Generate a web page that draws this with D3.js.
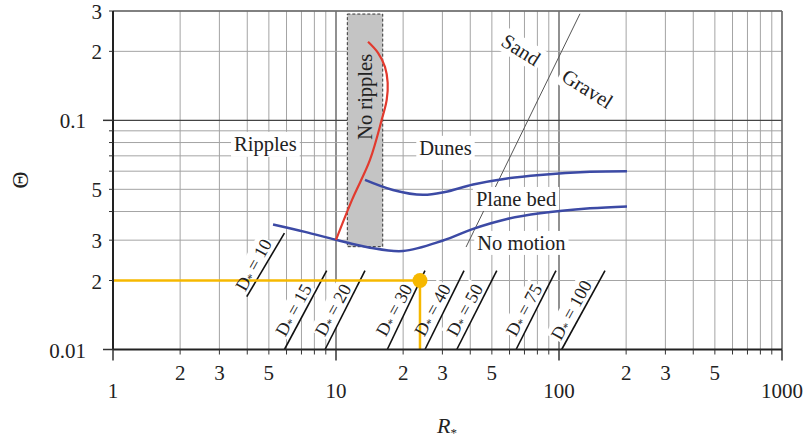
<!DOCTYPE html>
<html lang="en">
<head>
<meta charset="UTF-8">
<title>Bedform regimes</title>
<script src="https://d3js.org/d3.v7.min.js"></script>
<style>
  body { margin: 0; background: #fff; }
  text { font-family: "Liberation Serif", "Times New Roman", serif; fill: #222; }
</style>
</head>
<body>
<svg width="811" height="441"></svg>
<script>
// upper blue curve (dunes / plane bed)
const planeBedR     = [13.49, 18.01, 24.55, 30.8, 41.2, 58.5, 82.2, 137.7, 201.8];
const planeBedTheta = [0.0550, 0.0497, 0.0473, 0.0487, 0.0525, 0.0558, 0.0578, 0.0596, 0.0599];

// lower blue curve (threshold of motion)
const noMotionR     = [5.22, 7.26, 10, 14.2, 19.97, 30.2, 41.2, 58.5, 82.2, 137.7, 201.8];
const noMotionTheta = [0.0351, 0.0326, 0.0301, 0.0278, 0.0269, 0.0299, 0.0336, 0.0371, 0.0393, 0.0413, 0.0421];

// red curve (ripples limit)
const ripplesR     = [10, 11.8, 14.2, 16.03, 16.88, 17.05, 16.58, 15.43, 13.92];
const ripplesTheta = [0.0301, 0.045, 0.0672, 0.1005, 0.1229, 0.1458, 0.1712, 0.1971, 0.2202];

// D* lines, start and end points
const dStar       = [10, 15, 20, 30, 40, 50, 75, 100];
const dStarR0     = [3.98, 5.87, 8.93, 16.98, 25.06, 34.8, 64.2, 102.8];
const dStarTheta0 = [0.017, 0.01, 0.01, 0.01, 0.01, 0.01, 0.01, 0.01];
const dStarR1     = [5.87, 9.08, 13.49, 25.06, 37.5, 52.6, 96.9, 160.8];
const dStarTheta1 = [0.0322, 0.0221, 0.0221, 0.0221, 0.0221, 0.0221, 0.0221, 0.0221];

// sand / gravel divide
const sandGravelR     = [38.3, 124.2];
const sandGravelTheta = [0.028, 0.2918];

// grey "no ripples" band
const noRipplesR     = [11.24, 16.2];
const noRipplesTheta = [0.0281, 0.291];

// worked example point
const exampleR = 23.8, exampleTheta = 0.02;

// tick labels
const xMajor = [1, 10, 100, 1000];
const xMinorLabeled = [2, 3, 5, 20, 30, 50, 200, 300, 500];
const yTickValues = [0.3, 0.2, 0.1, 0.05, 0.03, 0.02, 0.01];
const yTickLabels = ["3", "2", "0.1", "5", "3", "2", "0.01"];

const svg = d3.select("svg");
const x = d3.scaleLog().domain([1, 1000]).range([113, 782]);
const y = d3.scaleLog().domain([0.01, 0.3]).range([349.5, 11]);

// grid values: every integer multiple inside each decade
const xGrid = [];
for (let d = 1; d < 1000; d *= 10) for (let k = 1; k <= 9; k++) xGrid.push(k * d);
xGrid.push(1000);
const yGrid = [0.01, 0.02, 0.03, 0.04, 0.05, 0.06, 0.07, 0.08, 0.09, 0.1, 0.2, 0.3];

const isMajor = v => Math.abs(Math.log10(v) - Math.round(Math.log10(v))) < 1e-9;

const grid = svg.append("g");
grid.selectAll(".vx").data(xGrid).enter().append("line")
    .attr("x1", d => x(d)).attr("x2", d => x(d))
    .attr("y1", y(0.3)).attr("y2", y(0.01))
    .attr("stroke", d => (d === 10 || d === 100) ? "#555" : "#a4a4a4")
    .attr("stroke-width", d => (d === 10 || d === 100) ? 1.3 : 1);
grid.selectAll(".hy").data(yGrid).enter().append("line")
    .attr("x1", x(1)).attr("x2", x(1000))
    .attr("y1", d => y(d)).attr("y2", d => y(d))
    .attr("stroke", d => d === 0.1 ? "#444" : "#a4a4a4")
    .attr("stroke-width", d => d === 0.1 ? 1.3 : 1);

// grey band
svg.append("rect")
    .attr("x", x(noRipplesR[0])).attr("y", y(noRipplesTheta[1]))
    .attr("width", x(noRipplesR[1]) - x(noRipplesR[0]))
    .attr("height", y(noRipplesTheta[0]) - y(noRipplesTheta[1]))
    .attr("fill", "#c4c4c4").attr("stroke", "#333")
    .attr("stroke-width", 1).attr("stroke-dasharray", "3,2");

// sand/gravel line
svg.append("line")
    .attr("x1", x(sandGravelR[0])).attr("y1", y(sandGravelTheta[0]))
    .attr("x2", x(sandGravelR[1])).attr("y2", y(sandGravelTheta[1]))
    .attr("stroke", "#555").attr("stroke-width", 1);

const bgLayer = svg.append("g");
const markLayer = svg.append("g");
const textLayer = svg.append("g");

// label with white box behind it
function label(str, R, T, opts = {}) {
  const size = opts.size || 20.5, rot = opts.rot || 0, anchor = opts.anchor || "start";
  const tf = `translate(${x(R)},${y(T)}) rotate(${rot})`;
  const g = textLayer.append("g").attr("transform", tf);
  const t = g.append("text").attr("text-anchor", anchor)
      .attr("dominant-baseline", opts.baseline || "alphabetic")
      .style("font-size", size + "px");
  if (opts.sub) {
    t.append("tspan").text(str);
    t.append("tspan").attr("dy", 4).style("font-size", (size * 0.65) + "px").text("*");
    t.append("tspan").attr("dy", -4).text(opts.sub);
  } else {
    t.text(str);
  }
  if (opts.bg !== false) {
    const b = t.node().getBBox(), p = opts.pad || 3;
    bgLayer.append("rect").attr("transform", tf)
        .attr("x", b.x - p).attr("y", b.y - 1).attr("width", b.width + 2 * p).attr("height", b.height + 2)
        .attr("fill", "#fff");
  }
}

// D* lines
dStar.forEach((d, i) => {
  markLayer.append("line")
      .attr("x1", x(dStarR0[i])).attr("y1", y(dStarTheta0[i]))
      .attr("x2", x(dStarR1[i])).attr("y2", y(dStarTheta1[i]))
      .attr("stroke", "#111").attr("stroke-width", 1.6);
});

const line = d3.line().x(d => x(d[0])).y(d => y(d[1])).curve(d3.curveCatmullRom);

markLayer.append("path").datum(planeBedR.map((r, i) => [r, planeBedTheta[i]]))
    .attr("d", line).attr("fill", "none").attr("stroke", "#3c4aa5").attr("stroke-width", 2.5);
markLayer.append("path").datum(noMotionR.map((r, i) => [r, noMotionTheta[i]]))
    .attr("d", line).attr("fill", "none").attr("stroke", "#3c4aa5").attr("stroke-width", 2.5);
markLayer.append("path").datum(ripplesR.map((r, i) => [r, ripplesTheta[i]]))
    .attr("d", line).attr("fill", "none").attr("stroke", "#e23a2e").attr("stroke-width", 2.2);

// worked example in yellow
markLayer.append("line")
    .attr("x1", x(1)).attr("x2", x(exampleR)).attr("y1", y(exampleTheta)).attr("y2", y(exampleTheta))
    .attr("stroke", "#f6b800").attr("stroke-width", 2.5);
markLayer.append("line")
    .attr("x1", x(exampleR)).attr("x2", x(exampleR)).attr("y1", y(exampleTheta)).attr("y2", y(0.01))
    .attr("stroke", "#f6b800").attr("stroke-width", 2.5);
markLayer.append("circle")
    .attr("cx", x(exampleR)).attr("cy", y(exampleTheta)).attr("r", 7.5).attr("fill", "#f6b800");

// region labels
label("Ripples", 3.49, 0.0736);
label("Dunes", 23.63, 0.0707);
label("Plane bed", 42.4, 0.0423);
label("No motion", 43.0, 0.0272);
label("Sand", 67.5, 0.2032, {rot: 32, anchor: "middle", baseline: "central"});
label("Gravel", 134.2, 0.1373, {rot: 32, anchor: "middle", baseline: "central"});
label("No ripples", 13.49, 0.1266, {rot: -90, anchor: "middle", baseline: "central", bg: false});

// D* labels beside each line
dStar.forEach((d, i) => {
  const xm = (x(dStarR0[i]) + x(dStarR1[i])) / 2 - 12;
  const ym = (y(dStarTheta0[i]) + y(dStarTheta1[i])) / 2;
  label("D", x.invert(xm), y.invert(ym),
        {rot: -61, anchor: "middle", baseline: "central", size: 18, sub: " = " + d, pad: 1});
});

// axes
const axes = svg.append("g");
axes.append("line").attr("x1", x(1)).attr("x2", x(1000)).attr("y1", y(0.3)).attr("y2", y(0.3))
    .attr("stroke", "#666").attr("stroke-width", 1.5);
axes.append("line").attr("x1", x(1000)).attr("x2", x(1000)).attr("y1", y(0.3)).attr("y2", y(0.01))
    .attr("stroke", "#666").attr("stroke-width", 1.5);
axes.append("line").attr("x1", x(1)).attr("x2", x(1)).attr("y1", y(0.3)).attr("y2", y(0.01))
    .attr("stroke", "#222").attr("stroke-width", 2);
axes.append("line").attr("x1", x(1)).attr("x2", x(1000)).attr("y1", y(0.01)).attr("y2", y(0.01))
    .attr("stroke", "#222").attr("stroke-width", 2);

axes.selectAll(".xt").data(xGrid).enter().append("line")
    .attr("x1", d => x(d)).attr("x2", d => x(d))
    .attr("y1", y(0.01)).attr("y2", d => y(0.01) + (isMajor(d) ? 11 : 5))
    .attr("stroke", "#333").attr("stroke-width", d => isMajor(d) ? 1.5 : 1);
axes.selectAll(".yt").data(yGrid).enter().append("line")
    .attr("y1", d => y(d)).attr("y2", d => y(d))
    .attr("x1", x(1)).attr("x2", d => x(1) - (isMajor(d) ? 10 : 4))
    .attr("stroke", "#333").attr("stroke-width", d => isMajor(d) ? 1.5 : 1);

axes.selectAll(".xl").data(xMinorLabeled).enter().append("text")
    .attr("x", d => x(d)).attr("y", y(0.01) + 30).attr("text-anchor", "middle")
    .style("font-size", "21px").text(d => String(d).charAt(0));
axes.selectAll(".xL").data(xMajor).enter().append("text")
    .attr("x", d => x(d)).attr("y", y(0.01) + 48).attr("text-anchor", "middle")
    .style("font-size", "21px").text(d => d);
axes.selectAll(".yl").data(yTickValues).enter().append("text")
    .attr("x", d => isMajor(d) ? 86 : 102).attr("y", d => y(d) + 8)
    .attr("text-anchor", "end").style("font-size", "21px")
    .text((d, i) => yTickLabels[i]);

// axis titles
svg.append("text").attr("transform", "translate(20,180) rotate(-90)")
    .attr("text-anchor", "middle").attr("dominant-baseline", "central")
    .style("font-size", "24px").text("Θ");
const rt = svg.append("text").attr("x", 437).attr("y", 433).style("font-size", "22px");
rt.append("tspan").style("font-style", "italic").text("R");
rt.append("tspan").attr("dy", 4).style("font-size", "13px").text("*");
</script>
</body>
</html>
